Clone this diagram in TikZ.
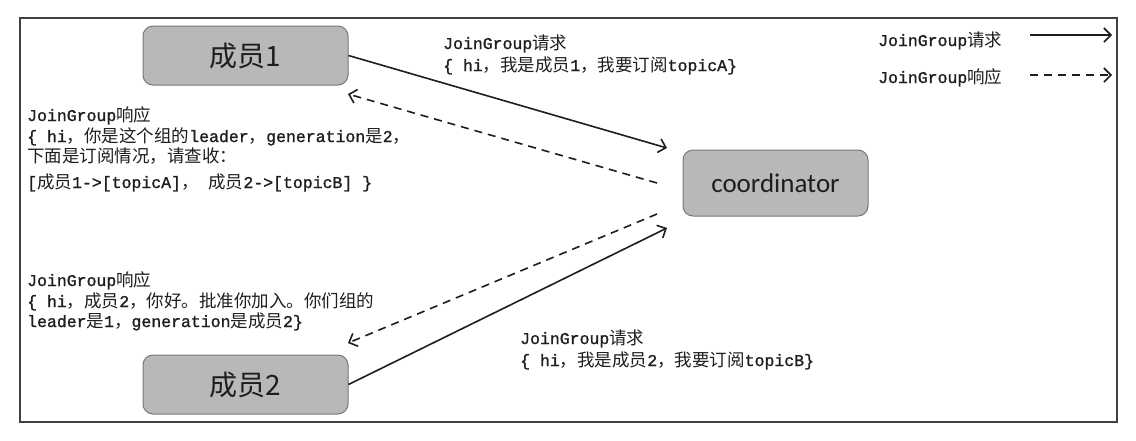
\documentclass[tikz,border=0pt]{standalone}
\usepackage{fontspec}
\usetikzlibrary{arrows.meta}
\newfontfamily\cjk{Noto Sans CJK SC}
\newfontfamily\monofont[FakeBold=1.2]{Liberation Mono}
\newfontfamily\calfont{Carlito}
\newcommand\zh[1]{{\cjk\fontsize{17.5}{20}\selectfont #1}}
\definecolor{boxfill}{RGB}{184,184,184}
\definecolor{boxdraw}{RGB}{120,120,120}
\definecolor{ink}{RGB}{30,30,30}
\tikzset{
  member/.style={draw=boxdraw, fill=boxfill, rounded corners=10pt, line width=1pt,
    minimum width=205pt, minimum height=59pt, inner sep=0pt, text=ink},
  coord/.style={draw=boxdraw, fill=boxfill, rounded corners=10pt, line width=1pt,
    minimum width=185pt, minimum height=66pt, inner sep=0pt, text=ink},
  lbl/.style={anchor=base west, inner sep=0pt, text=ink, font=\monofont\fontsize{16.5}{20}\selectfont},
  req/.style={draw=ink, line width=1.6pt, -{Straight Barb[length=7pt,width=14pt,line width=1.6pt]}},
  resp/.style={draw=ink, line width=1.6pt, dash pattern=on 8pt off 6pt,
    -{Straight Barb[length=7pt,width=14pt,line width=1.6pt]}},
}
\begin{document}
\begin{tikzpicture}[x=1pt,y=-1pt]
\useasboundingbox (0,0) rectangle (1136,440);
\fill[white] (0,0) rectangle (1136,440);
\draw[draw=ink!85, line width=1.6pt] (20,18) rectangle (1117,422);

\node[member] (m1) at (245.5,55.5) {\cjk\fontsize{28}{30}\selectfont 成员1};
\node[member] (m2) at (245.5,384.5) {\cjk\fontsize{28}{30}\selectfont 成员2};
\node[coord] (co) at (775.5,183) {\calfont\fontsize{27}{30}\selectfont coordinator};

\coordinate (a1) at (667,148);
\coordinate (d1s) at (657,183);
\coordinate (d1e) at (348,94);
\coordinate (d2s) at (657,214);
\coordinate (d2e) at (348,343);
\coordinate (a2) at (667,228);

\draw[req] (m1.east) -- (a1);
\draw[resp] (d1s) -- (d1e);
\draw[resp] (d2s) -- (d2e);
\draw[req] (m2.east) -- (a2);

% top request label
\node[lbl] (r1a) at (443,49) {JoinGroup\zh{请求}};
\node[lbl] (r1b) at (443,71) {\{ hi\zh{，我是成员}1\zh{，我要订阅}topicA\}};

% left response label
\node[lbl] (p1a) at (27,121) {JoinGroup\zh{响应}};
\node[lbl] (p1b) at (27,142) {\{ hi\zh{，你是这个组的}leader\zh{，}generation\zh{是}2\zh{，}};
\node[lbl] (p1c) at (27,162) {\zh{下面是订阅情况，请查收：}};
\node[lbl] (p1d) at (27,188) {[\zh{成员}1->[topicA]\zh{，} \zh{成员}2->[topicB] \}};

% bottom-left response label
\node[lbl] (p2a) at (27,286) {JoinGroup\zh{响应}};
\node[lbl] (p2b) at (27,307) {\{ hi\zh{，成员}2\zh{，你好。批准你加入。你们组的}};
\node[lbl] (p2c) at (27,327) {leader\zh{是}1\zh{，}generation\zh{是成员}2\}};

% bottom-right request label
\node[lbl] (r2a) at (520,344) {JoinGroup\zh{请求}};
\node[lbl] (r2b) at (520,366) {\{ hi\zh{，我是成员}2\zh{，我要订阅}topicB\}};

% legend
\node[lbl] (lg1) at (878,46) {JoinGroup\zh{请求}};
\node[lbl] (lg2) at (878,83) {JoinGroup\zh{响应}};
\coordinate (l1s) at (1030,35);
\coordinate (l1e) at (1112,35);
\coordinate (l2s) at (1030,75);
\coordinate (l2e) at (1112,75);
\draw[req] (l1s) -- (l1e);
\draw[resp] (l2s) -- (l2e);
\end{tikzpicture}
\end{document}
